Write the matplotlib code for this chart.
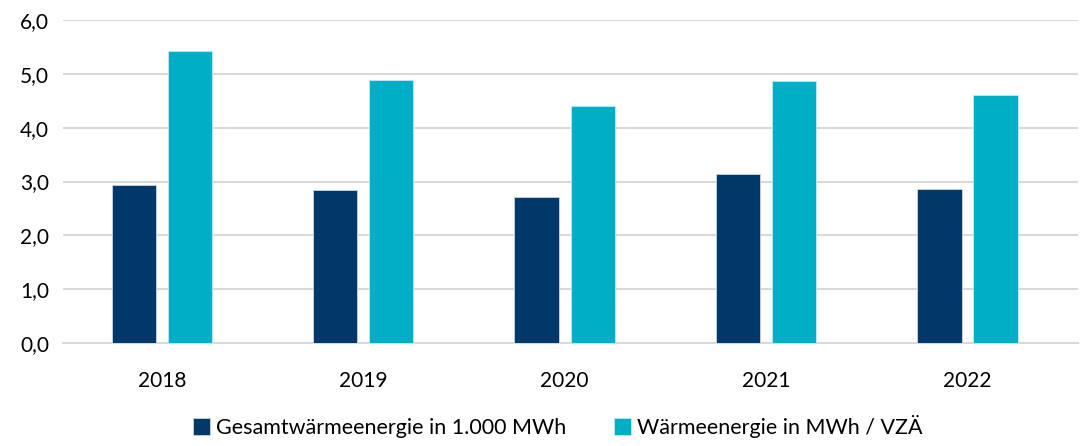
import matplotlib
matplotlib.use("Agg")
import matplotlib.pyplot as plt
import numpy as np
from matplotlib.ticker import FuncFormatter, MultipleLocator

years = ["2018", "2019", "2020", "2021", "2022"]
gesamt = [2.93, 2.84, 2.71, 3.14, 2.86]
pro_vza = [5.42, 4.88, 4.40, 4.87, 4.60]
labels = ["Gesamtwärmeenergie in 1.000 MWh", "Wärmeenergie in MWh / VZÄ"]
colors = ["#00386A", "#00AEC6"]

plt.rcParams['font.family'] = ['Lato', 'DejaVu Sans']

fig = plt.figure(figsize=(10.83, 4.46), dpi=100)
ax = fig.add_axes([0.058, 0.231, 0.937, 0.724])

x = np.arange(len(years))
w = 0.22
off = 0.139
ax.bar(x - off, gesamt, w, color=colors[0], edgecolor="#C9D6E3", linewidth=0.6, label=labels[0], zorder=3)
ax.bar(x + off, pro_vza, w, color=colors[1], edgecolor="#BDEBF2", linewidth=0.6, label=labels[1], zorder=3)

ax.set_xlim(-0.491, 4.546)
ax.set_ylim(0, 6)
ax.yaxis.set_major_locator(MultipleLocator(1))
ax.yaxis.set_major_formatter(FuncFormatter(lambda v, p: f"{v:.1f}".replace(".", ",")))
ax.set_xticks(x)
ax.set_xticklabels(years)
ax.grid(axis="y", color="#D9D9D9", linewidth=1.5, zorder=0)
for s in ["top", "right", "left"]:
    ax.spines[s].set_visible(False)
ax.spines["bottom"].set_color("#D9D9D9")
ax.spines["bottom"].set_linewidth(1.5)
ax.tick_params(axis="both", length=0, labelsize=15, colors="#000000")
ax.tick_params(axis="x", pad=20)
ax.tick_params(axis="y", pad=10)

fig.legend(loc="lower center", bbox_to_anchor=(0.515, -0.025), ncol=2, frameon=False,
           fontsize=15.5, handlelength=0.8, handleheight=0.8, handletextpad=0.3, columnspacing=2.2)

fig.savefig("out.png", dpi=100)
